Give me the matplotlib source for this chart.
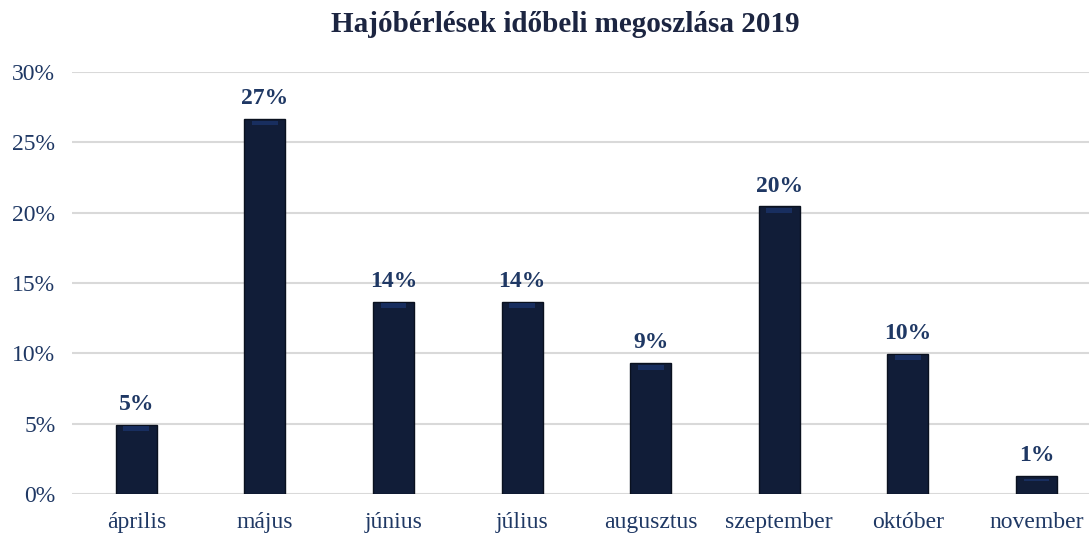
import matplotlib
matplotlib.use("Agg")
import matplotlib.pyplot as plt
from matplotlib.ticker import FuncFormatter

months = ["április", "május", "június", "július", "augusztus", "szeptember", "október", "november"]
values = [4.9, 26.65, 13.65, 13.65, 9.3, 20.45, 9.95, 1.3]
labels = ["5%", "27%", "14%", "14%", "9%", "20%", "10%", "1%"]
yticks = [0, 5, 10, 15, 20, 25, 30]
title = "Hajóbérlések időbeli megoszlása 2019"

navy = "#1f3864"
plt.rcParams["font.family"] = ["Liberation Serif", "DejaVu Serif"]

fig = plt.figure(figsize=(10.89, 5.33), dpi=100)
ax = fig.add_axes([72 / 1089, 39 / 533, 1 - 72 / 1089, (494 - 72) / 533])

x = list(range(len(months)))
ax.bar(x, values, width=0.32, color="#111d38", edgecolor="#0a111f", linewidth=1.0, zorder=3)
# subtle blue highlight near the top of each bar
for xi, v in zip(x, values):
    h = min(0.35, v * 0.12)
    ax.bar(xi, h, bottom=v - 0.45 if v > 1.5 else v - h - 0.2, width=0.2,
           color="#1e3a7a", alpha=0.6, zorder=4, linewidth=0)

for xi, v, lab in zip(x, values, labels):
    ax.annotate(lab, (xi, v), xytext=(0, 7), textcoords="offset points",
                ha="center", va="bottom", fontsize=17, fontweight="bold", color=navy)

ax.set_ylim(0, 30)
ax.set_xlim(-0.5, -0.5 + (1089 - 72) / 128.6)
ax.set_yticks(yticks)
ax.yaxis.set_major_formatter(FuncFormatter(lambda v, p: f"{int(v)}%"))
ax.set_xticks(x)
ax.set_xticklabels(months)
ax.tick_params(axis="both", length=0, labelsize=17, labelcolor=navy)
ax.tick_params(axis="y", pad=12)
ax.tick_params(axis="x", pad=13)
ax.grid(axis="y", color="#d9d9d9", linewidth=1.5, zorder=0)
ax.set_axisbelow(True)
for s in ax.spines.values():
    s.set_visible(False)

fig.text(565 / 1089, 1 - 24 / 533, title, ha="center", va="center",
         fontsize=21, fontweight="bold", color="#1c2541")

fig.savefig("out.png", dpi=100)
